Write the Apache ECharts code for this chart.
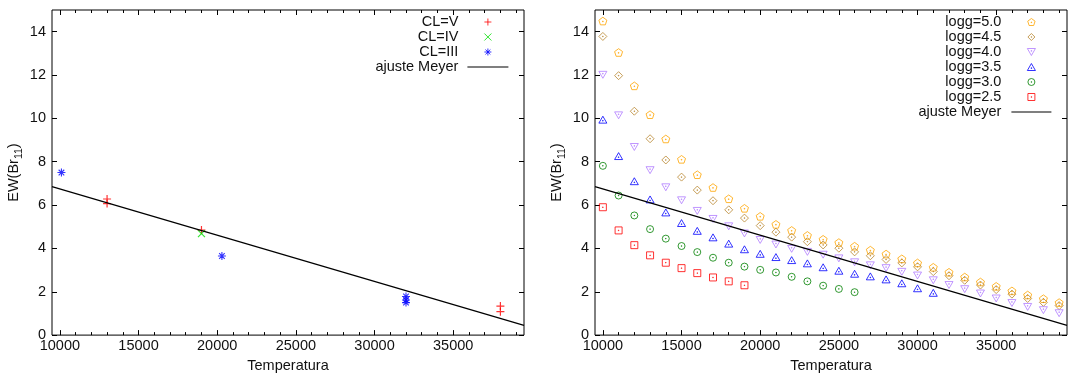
<!DOCTYPE html>
<html>
<head>
<meta charset="utf-8">
<script src="https://cdn.jsdelivr.net/npm/echarts@6/dist/echarts.min.js"></script>
<style>
  html, body { margin: 0; padding: 0; background: #fff; }
  #chart { width: 1068px; height: 378px; }
</style>
</head>
<body>
<div id="chart"></div>
<script>
// Temperature axis range and tick positions (shared by both panels)
const xMin = 9500;
const xMax = 39500;
const xMajorTicks = [10000, 15000, 20000, 25000, 30000, 35000];
const xMinorTicks = [10000, 11000, 12000, 13000, 14000, 15000, 16000, 17000, 18000, 19000,
  20000, 21000, 22000, 23000, 24000, 25000, 26000, 27000, 28000, 29000,
  30000, 31000, 32000, 33000, 34000, 35000, 36000, 37000, 38000, 39000];
const yMin = 0;
const yMax = 15;
const yTicks = [0, 2, 4, 6, 8, 10, 12, 14];

// Left panel: observed stars by luminosity class [T, EW]
const clV = [[13000, 6.28], [13000, 6.07], [19000, 4.85], [38000, 1.34], [38000, 1.08]];
const clIV = [[19000, 4.68]];
const clIII = [[10100, 7.5], [20300, 3.65], [32000, 1.78], [32000, 1.62], [32000, 1.5]];

// Meyer fit, evaluated at the ends of the temperature range
const meyerFit = [[9500, 6.85], [39500, 0.45]];

// Right panel: model EW vs temperature for each log g
const temps = [10000, 11000, 12000, 13000, 14000, 15000, 16000, 17000, 18000, 19000,
  20000, 21000, 22000, 23000, 24000, 25000, 26000, 27000, 28000, 29000,
  30000, 31000, 32000, 33000, 34000, 35000, 36000, 37000, 38000, 39000];
const logg50 = [14.49, 13.04, 11.50, 10.17, 9.05, 8.11, 7.40, 6.81, 6.29, 5.85,
  5.48, 5.11, 4.83, 4.60, 4.42, 4.27, 4.10, 3.92, 3.74, 3.52,
  3.33, 3.13, 2.90, 2.68, 2.45, 2.25, 2.04, 1.85, 1.68, 1.50];
const logg45 = [13.78, 11.97, 10.33, 9.06, 8.08, 7.29, 6.69, 6.20, 5.78, 5.40,
  5.05, 4.75, 4.52, 4.31, 4.16, 4.01, 3.84, 3.66, 3.49, 3.33,
  3.15, 2.93, 2.74, 2.53, 2.31, 2.10, 1.89, 1.69, 1.51, 1.36];
const logg40 = [12.01, 10.14, 8.68, 7.61, 6.82, 6.22, 5.73, 5.36, 5.02, 4.69,
  4.39, 4.18, 3.98, 3.84, 3.71, 3.54, 3.36, 3.22, 3.09, 2.92,
  2.75, 2.53, 2.31, 2.12, 1.92, 1.69, 1.48, 1.30, 1.15, 1.01];
const logg35 = [9.94, 8.26, 7.10, 6.26, 5.66, 5.17, 4.81, 4.51, 4.22, 3.96,
  3.75, 3.60, 3.46, 3.31, 3.13, 2.97, 2.83, 2.71, 2.57, 2.39,
  2.16, 1.95];
const logg30 = [7.81, 6.44, 5.52, 4.89, 4.45, 4.11, 3.83, 3.57, 3.34, 3.16,
  3.01, 2.89, 2.69, 2.48, 2.28, 2.13, 1.98];
const logg25 = [5.90, 4.83, 4.15, 3.68, 3.34, 3.09, 2.86, 2.66, 2.48, 2.30];

// Point shapes (open outlines, most with a centre dot)
const DOT = 'M4.6,4.6L5.4,4.6L5.4,5.4L4.6,5.4Z';
const SYM = {
  plus: 'path://M0,5L10,5M5,0L5,10',
  cross: 'path://M0,0L10,10M10,0L0,10',
  star: 'path://M0,5L10,5M5,0L5,10M1.5,1.5L8.5,8.5M8.5,1.5L1.5,8.5',
  pentagon: 'path://M5,0L9.755,3.455L7.939,9.045L2.061,9.045L0.245,3.455Z' + DOT,
  diamond: 'path://M5,0L10,5L5,10L0,5Z' + DOT,
  triDown: 'path://M0,0L10,0L5,8.66Z' + 'M4.6,2.6L5.4,2.6L5.4,3.4L4.6,3.4Z',
  triUp: 'path://M5,0L10,8.66L0,8.66Z' + 'M4.6,5.3L5.4,5.3L5.4,6.1L4.6,6.1Z',
  circle: 'path://M0,5A5,5,0,1,0,10,5A5,5,0,1,0,0,5Z' + DOT,
  square: 'path://M0,0L10,0L10,10L0,10Z' + DOT
};

const COLORS = {
  'CL=V': '#ff0000',
  'CL=IV': '#00e000',
  'CL=III': '#0000ff',
  'logg=5.0': '#ffa500',
  'logg=4.5': '#b8862e',
  'logg=4.0': '#b07cff',
  'logg=3.5': '#0000ff',
  'logg=3.0': '#007f00',
  'logg=2.5': '#ff0000'
};

const FONT = 'Liberation Sans, Arial, Helvetica, sans-serif';
const FS = 14.5;
const INK = '#111';

function pair(xs, ys) {
  return ys.map((v, i) => [xs[i], v]);
}

function xAxesFor(g) {
  const base = {
    type: 'value', gridIndex: g, min: xMin, max: xMax,
    axisLine: { show: false, onZero: false },
    splitLine: { show: false }
  };
  const tickStyle = { color: '#000', width: 1 };
  return [
    Object.assign({}, base, {
      position: 'bottom',
      name: 'Temperatura', nameLocation: 'middle', nameGap: 18,
      nameTextStyle: { fontFamily: FONT, fontSize: FS, color: INK },
      axisTick: { show: true, inside: true, length: 5, customValues: xMajorTicks, lineStyle: tickStyle },
      axisLabel: {
        show: true, margin: 3, customValues: xMajorTicks,
        formatter: (v) => String(v),
        fontFamily: FONT, fontSize: FS, color: INK
      }
    }),
    Object.assign({}, base, {
      position: 'bottom',
      axisTick: { show: true, inside: true, length: 3, customValues: xMinorTicks, lineStyle: tickStyle },
      axisLabel: { show: false }
    }),
    Object.assign({}, base, {
      position: 'top',
      axisTick: { show: true, inside: true, length: 5, customValues: xMajorTicks, lineStyle: tickStyle },
      axisLabel: { show: false }
    }),
    Object.assign({}, base, {
      position: 'top',
      axisTick: { show: true, inside: true, length: 3, customValues: xMinorTicks, lineStyle: tickStyle },
      axisLabel: { show: false }
    })
  ];
}

function yAxesFor(g, gap) {
  const base = {
    type: 'value', gridIndex: g, min: yMin, max: yMax,
    axisLine: { show: false, onZero: false },
    splitLine: { show: false }
  };
  const tickStyle = { color: '#000', width: 1 };
  return [
    Object.assign({}, base, {
      position: 'left',
      name: '{a|EW(Br}{b|11}{a|)}', nameLocation: 'middle', nameGap: gap, nameRotate: 90,
      nameTextStyle: {
        rich: {
          a: { fontFamily: FONT, fontSize: FS, color: INK, lineHeight: 22, verticalAlign: 'middle' },
          b: { fontFamily: FONT, fontSize: 10.5, color: INK, lineHeight: 11, verticalAlign: 'bottom' }
        }
      },
      axisTick: { show: true, inside: true, length: 5, customValues: yTicks, lineStyle: tickStyle },
      axisLabel: { show: true, margin: 6, customValues: yTicks, fontFamily: FONT, fontSize: FS, color: INK }
    }),
    Object.assign({}, base, {
      position: 'right',
      axisTick: { show: true, inside: true, length: 5, customValues: yTicks, lineStyle: tickStyle },
      axisLabel: { show: false }
    })
  ];
}

function pointSeries(name, data, symbol, size, xIdx, yIdx, lw) {
  return {
    type: 'scatter', name: name, data: data,
    xAxisIndex: xIdx, yAxisIndex: yIdx,
    symbol: symbol, symbolSize: size, symbolKeepAspect: true,
    itemStyle: { color: 'transparent', borderColor: COLORS[name], borderWidth: lw || 1 },
    emphasis: { disabled: true }
  };
}

function fitSeries(xIdx, yIdx) {
  return {
    type: 'line', name: 'ajuste Meyer', data: meyerFit,
    xAxisIndex: xIdx, yAxisIndex: yIdx,
    showSymbol: false, symbol: 'none',
    lineStyle: { color: '#000', width: 1.2 },
    itemStyle: { color: '#000' },
    emphasis: { disabled: true }
  };
}

// Legend entries: outlined point icons, plain line (no marker) for the fit
function legendItem(name) {
  if (name === 'ajuste Meyer') {
    return {
      name: name,
      lineStyle: { color: '#000', width: 1.2 },
      itemStyle: { color: 'transparent', borderColor: 'transparent', borderWidth: 0 }
    };
  }
  return {
    name: name,
    itemStyle: { color: 'transparent', borderColor: COLORS[name], borderWidth: 1 }
  };
}

const legendText = (pad) => ({
  fontFamily: FONT, fontSize: FS, color: INK, lineHeight: 15, padding: [0, pad, 0, 0]
});

const leftNames = ['CL=V', 'CL=IV', 'CL=III', 'ajuste Meyer'];
const rightNames = ['logg=5.0', 'logg=4.5', 'logg=4.0', 'logg=3.5', 'logg=3.0', 'logg=2.5', 'ajuste Meyer'];

const option = {
  animation: false,
  backgroundColor: '#fff',
  grid: [
    { left: 52, top: 10, width: 472, height: 331.5, show: true, borderColor: '#000', borderWidth: 1, backgroundColor: 'transparent' },
    { left: 595, top: 10, width: 472, height: 331.5, show: true, borderColor: '#000', borderWidth: 1, backgroundColor: 'transparent' }
  ],
  xAxis: xAxesFor(0).concat(xAxesFor(1)),
  yAxis: yAxesFor(0, 27).concat(yAxesFor(1, 27)),
  legend: [
    {
      orient: 'vertical', align: 'right', right: 559, top: 14.5, padding: 0,
      itemWidth: 41, itemHeight: 7, itemGap: 0,
      textStyle: legendText(4),
      selectedMode: false,
      data: leftNames.map(legendItem)
    },
    {
      orient: 'vertical', align: 'right', right: 16, top: 14.5, padding: 0,
      itemWidth: 40, itemHeight: 7, itemGap: 0,
      textStyle: legendText(5),
      selectedMode: false,
      data: rightNames.map(legendItem)
    }
  ],
  series: [
    fitSeries(0, 0),
    pointSeries('CL=V', clV, SYM.plus, 8, 0, 0, 1.2),
    pointSeries('CL=IV', clIV, SYM.cross, 7, 0, 0, 1.2),
    pointSeries('CL=III', clIII, SYM.star, 8, 0, 0, 1.1),

    fitSeries(4, 2),
    pointSeries('logg=5.0', pair(temps, logg50), SYM.pentagon, 8, 4, 2),
    pointSeries('logg=4.5', pair(temps, logg45), SYM.diamond, 8, 4, 2),
    pointSeries('logg=4.0', pair(temps, logg40), SYM.triDown, 8, 4, 2),
    pointSeries('logg=3.5', pair(temps, logg35), SYM.triUp, 8, 4, 2),
    pointSeries('logg=3.0', pair(temps, logg30), SYM.circle, 7, 4, 2),
    pointSeries('logg=2.5', pair(temps, logg25), SYM.square, 7, 4, 2)
  ]
};

const chart = echarts.init(document.getElementById('chart'), null, { renderer: 'canvas' });
chart.setOption(option);
</script>
</body>
</html>
